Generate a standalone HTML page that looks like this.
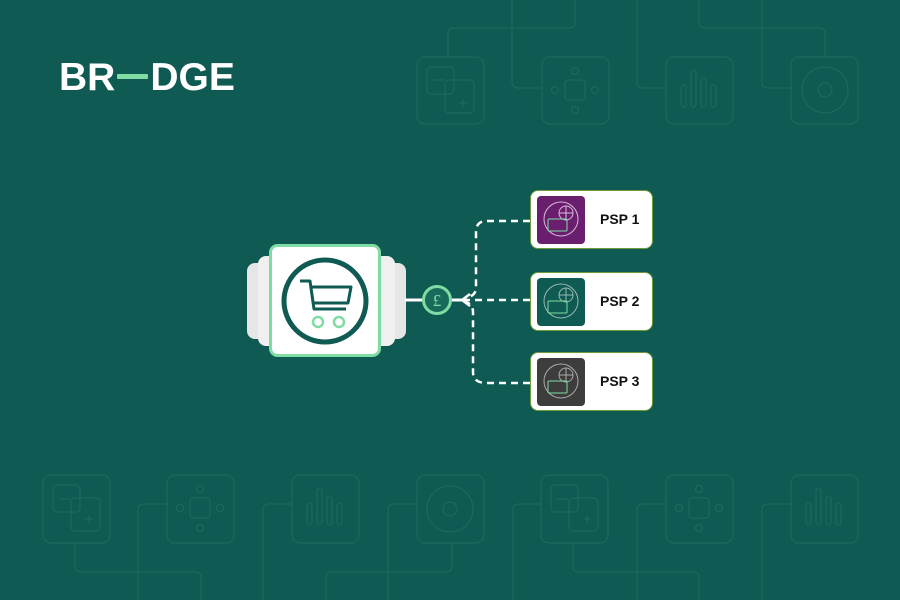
<!DOCTYPE html>
<html><head><meta charset="utf-8"><style>
html,body{margin:0;padding:0;}
body{width:900px;height:600px;background:#0f5a52;overflow:hidden;position:relative;font-family:"Liberation Sans",sans-serif;}
svg{position:absolute;left:0;top:0;}
.logo{position:absolute;left:59px;top:56px;color:#fff;font-weight:bold;font-size:39px;letter-spacing:0px;line-height:44px;white-space:nowrap;}
.psp{position:absolute;left:530px;width:123px;height:59px;background:#fff;border:1.5px solid #6f9b3c;border-radius:8px;box-sizing:border-box;}
.psp .ic{position:absolute;left:6px;top:5px;width:48px;height:48px;border-radius:4px;}
.psp .t{position:absolute;left:69px;top:20px;font-size:14px;font-weight:bold;color:#111;}
</style></head><body>
<svg width="900" height="600" viewBox="0 0 900 600">
<g fill="none" stroke="#1f6c5c" stroke-width="1">
<rect x="417" y="57" width="67" height="67" rx="8"/>
<rect x="542" y="57" width="67" height="67" rx="8"/>
<rect x="666" y="57" width="67" height="67" rx="8"/>
<rect x="791" y="57" width="67" height="67" rx="8"/>
<path d="M448 57 V34 Q448 28 454 28 H569 Q575 28 575 22 V0"/>
<path d="M542 88 H518 Q512 88 512 82 V0"/>
<path d="M666 88 H643 Q637 88 637 82 V0"/>
<path d="M699 0 V22 Q699 28 705 28 H819 Q825 28 825 34 V57"/>
<path d="M791 88 H768 Q762 88 762 82 V0"/>
<rect x="427" y="67" width="27" height="27" rx="4"/><rect x="445" y="80" width="29" height="33" rx="4"/>
<path d="M433 80 H444 M459 103 H467 M463 99 V107"/>
<rect x="565" y="80" width="20" height="20" rx="3"/><circle cx="575" cy="71" r="3.5"/><circle cx="575" cy="110" r="3.5"/><circle cx="555" cy="90" r="3.5"/><circle cx="595" cy="90" r="3.5"/>
<rect x="681" y="85" width="5" height="22" rx="2.5"/><rect x="691" y="70" width="5" height="37" rx="2.5"/><rect x="701" y="78" width="5" height="29" rx="2.5"/><rect x="711" y="85" width="5" height="22" rx="2.5"/>
<circle cx="825" cy="90" r="23"/><circle cx="825" cy="90" r="7"/>
<rect x="43" y="475" width="67" height="68" rx="8"/>
<rect x="167" y="475" width="67" height="68" rx="8"/>
<rect x="292" y="475" width="67" height="68" rx="8"/>
<rect x="417" y="475" width="67" height="68" rx="8"/>
<rect x="541" y="475" width="67" height="68" rx="8"/>
<rect x="666" y="475" width="67" height="68" rx="8"/>
<rect x="791" y="475" width="67" height="68" rx="8"/>
<path d="M75 543 V566 Q75 572 81 572 H195 Q201 572 201 578 V600"/>
<path d="M167 504 H144 Q138 504 138 510 V600"/>
<path d="M292 504 H269 Q263 504 263 510 V600"/>
<path d="M417 504 H394 Q388 504 388 510 V600"/>
<path d="M452 543 V566 Q452 572 446 572 H332 Q326 572 326 578 V600"/>
<path d="M541 504 H519 Q513 504 513 510 V600"/>
<path d="M573 543 V566 Q573 572 579 572 H693 Q699 572 699 578 V600"/>
<path d="M666 504 H643 Q637 504 637 510 V600"/>
<path d="M791 504 H768 Q762 504 762 510 V600"/>
<rect x="53" y="485" width="27" height="27" rx="4"/><rect x="71" y="498" width="29" height="33" rx="4"/>
<path d="M59 499 H70 M85 519 H93 M89 515 V523"/>
<rect x="551" y="485" width="27" height="27" rx="4"/><rect x="569" y="498" width="29" height="33" rx="4"/>
<path d="M557 499 H568 M583 519 H591 M587 515 V523"/>
<rect x="190" y="498" width="20" height="20" rx="3"/><circle cx="200" cy="489" r="3.5"/><circle cx="200" cy="528" r="3.5"/><circle cx="180" cy="508" r="3.5"/><circle cx="220" cy="508" r="3.5"/>
<rect x="689" y="498" width="20" height="20" rx="3"/><circle cx="699" cy="489" r="3.5"/><circle cx="699" cy="528" r="3.5"/><circle cx="679" cy="508" r="3.5"/><circle cx="719" cy="508" r="3.5"/>
<rect x="307" y="503" width="5" height="22" rx="2.5"/><rect x="317" y="488" width="5" height="37" rx="2.5"/><rect x="327" y="496" width="5" height="29" rx="2.5"/><rect x="337" y="503" width="5" height="22" rx="2.5"/>
<rect x="806" y="503" width="5" height="22" rx="2.5"/><rect x="816" y="488" width="5" height="37" rx="2.5"/><rect x="826" y="496" width="5" height="29" rx="2.5"/><rect x="836" y="503" width="5" height="22" rx="2.5"/>
<circle cx="450" cy="509" r="23"/><circle cx="450" cy="509" r="7"/>
</g>
<rect x="247" y="263" width="40" height="76" rx="8" fill="#e6e6e6"/>
<rect x="258" y="256" width="40" height="90" rx="8" fill="#f0f0f0"/>
<rect x="366" y="263" width="40" height="76" rx="8" fill="#e6e6e6"/>
<rect x="355" y="256" width="40" height="90" rx="8" fill="#f0f0f0"/>
<rect x="270.5" y="245.5" width="109" height="110" rx="7" fill="#fff" stroke="#7fdca3" stroke-width="3"/>
<circle cx="325" cy="301" r="41" fill="none" stroke="#0f5a52" stroke-width="5"/>
<path d="M300 281 H310 L314 309 H346 M311 287 H351 L348 303 H313" fill="none" stroke="#0f5a52" stroke-width="3" stroke-linejoin="round"/>
<circle cx="318" cy="322" r="5" fill="none" stroke="#7fdca3" stroke-width="2.5"/>
<circle cx="339" cy="322" r="5" fill="none" stroke="#7fdca3" stroke-width="2.5"/>
<path d="M405 300 H423" stroke="#fff" stroke-width="3"/>
<path d="M452 300 H462" stroke="#fff" stroke-width="3"/>
<g fill="none" stroke="#fff" stroke-width="2.5" stroke-dasharray="7 5">
<path d="M530 221 H487 Q476 221 476 232 V288 Q476 296 464 299"/>
<path d="M530 300 H464"/>
<path d="M530 383 H487 Q473 383 473 372 V312 Q473 304 464 301"/>
</g>
<path d="M470 294 L462 300 L470 306" fill="none" stroke="#fff" stroke-width="2.5"/>
<circle cx="437" cy="300" r="13.5" fill="#1a6a5c" stroke="#7fdca3" stroke-width="3"/>
<text x="437" y="306" text-anchor="middle" font-family="Liberation Serif,serif" font-size="17" fill="#7fdca3">£</text>
</svg>
<div class="logo">BR<span style="display:inline-block;width:31px;height:5px;background:#7fdca3;vertical-align:middle;margin:0 2px 6px 2px;border-radius:1px"></span>DGE</div>
<div class="psp" style="top:190px"><div class="ic" style="background:#6a1f6e"></div><div class="t">PSP 1</div></div>
<div class="psp" style="top:272px"><div class="ic" style="background:#0f5a52"></div><div class="t">PSP 2</div></div>
<div class="psp" style="top:352px"><div class="ic" style="background:#3d3d3d"></div><div class="t">PSP 3</div></div>
<svg width="900" height="600" viewBox="0 0 900 600" style="pointer-events:none">
<g fill="none" stroke-width="1">
<g stroke="#d9b9dc"><circle cx="561" cy="219" r="17"/><circle cx="566" cy="213" r="7"/><path d="M559 213 H573 M566 206 V220"/></g>
<rect x="548" y="219" width="19" height="12" rx="1" stroke="#7fdca3"/>
<g stroke="#9ab8b0"><circle cx="561" cy="301" r="17"/><circle cx="566" cy="295" r="7"/><path d="M559 295 H573 M566 288 V302"/></g>
<rect x="548" y="301" width="19" height="12" rx="1" stroke="#7fdca3"/>
<g stroke="#aaaaaa"><circle cx="561" cy="381" r="17"/><circle cx="566" cy="375" r="7"/><path d="M559 375 H573 M566 368 V382"/></g>
<rect x="548" y="381" width="19" height="12" rx="1" stroke="#7fdca3"/>
</g></svg>
</body></html>
